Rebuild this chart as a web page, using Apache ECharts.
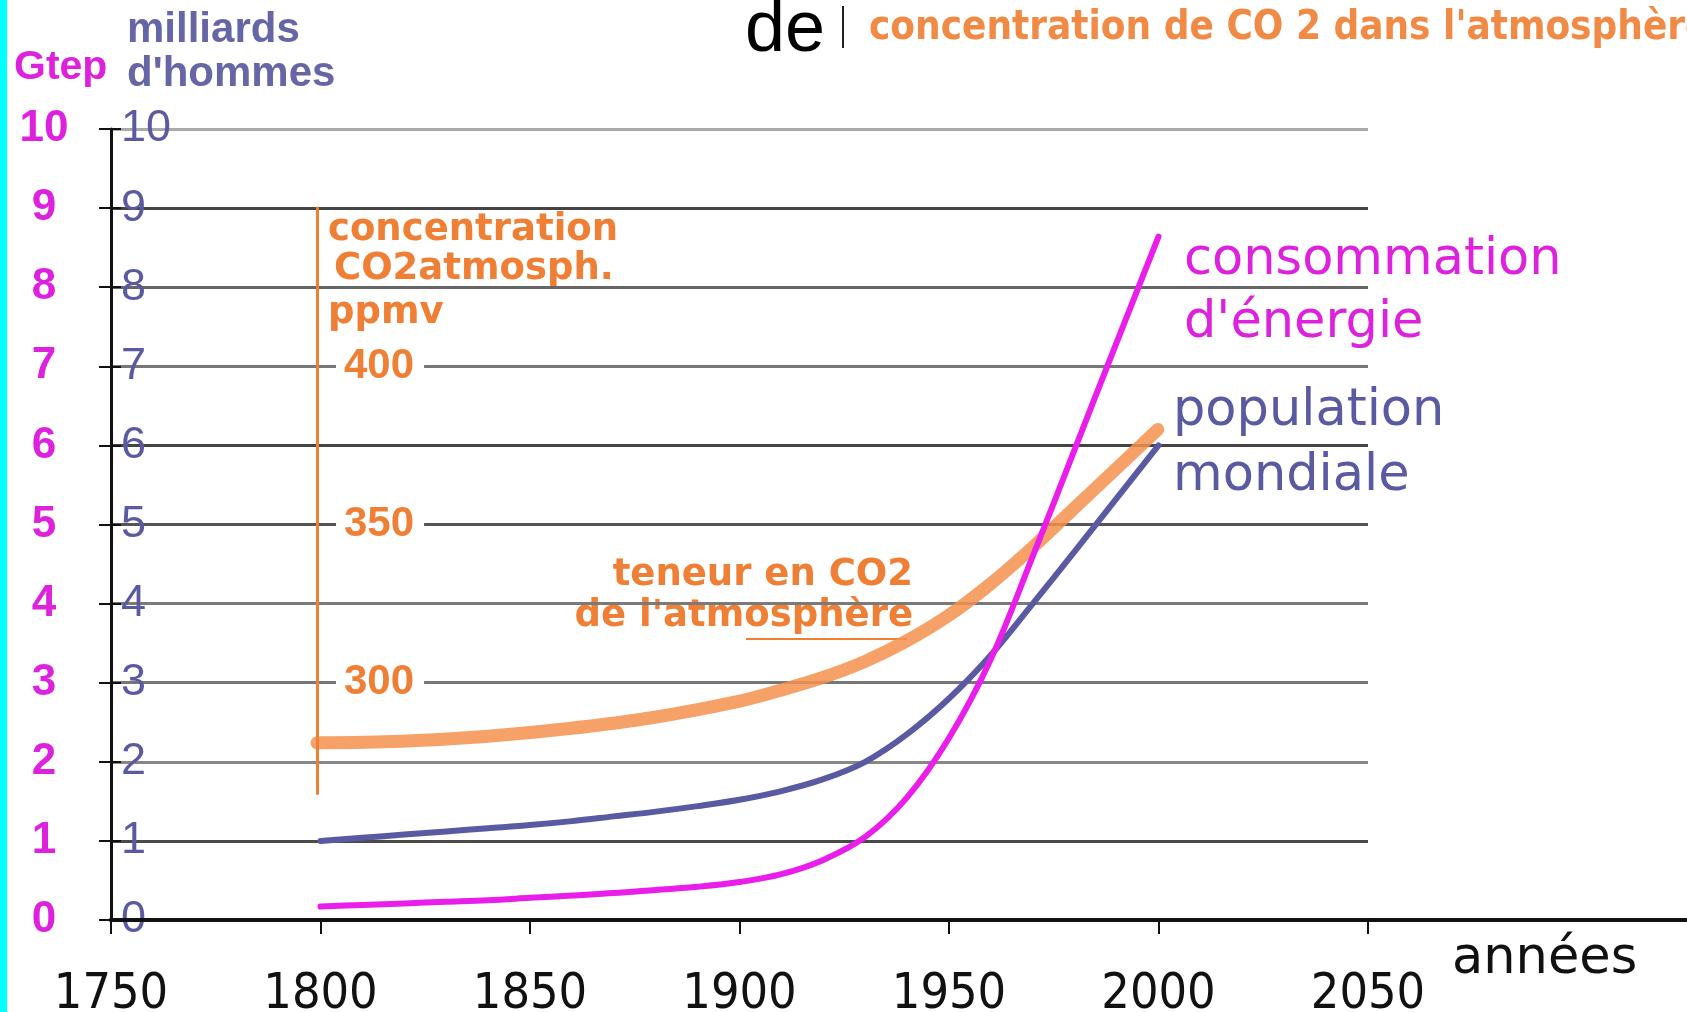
<!DOCTYPE html>
<html>
<head>
<meta charset="utf-8">
<script src="https://cdn.jsdelivr.net/npm/echarts@6/dist/echarts.min.js"></script>
<style>
  html, body { margin: 0; padding: 0; background: #fff; }
  #chart { width: 1687px; height: 1012px; }
</style>
</head>
<body>
<div id="chart"></div>
<script>
// années (consommation d'énergie et population)
var years = [1800, 1810, 1820, 1830, 1840, 1850, 1860, 1870, 1880, 1890, 1900,
  1910, 1920, 1930, 1940, 1950, 1960, 1970, 1980, 1990, 2000];
// consommation d'énergie (Gtep)
var energy = [0.17, 0.19, 0.21, 0.23, 0.25, 0.28, 0.31, 0.34, 0.38, 0.42, 0.48,
  0.58, 0.76, 1.05, 1.55, 2.3, 3.3, 4.6, 5.95, 7.3, 8.64];
// population mondiale (milliards d'hommes)
var population = [1.0, 1.04, 1.08, 1.12, 1.16, 1.2, 1.25, 1.31, 1.37, 1.44, 1.52,
  1.63, 1.78, 2.0, 2.35, 2.8, 3.35, 4.0, 4.66, 5.33, 6.0];
// teneur en CO2 de l'atmosphère (ppmv)
var co2Years = [1800, 1820, 1840, 1860, 1880, 1900, 1910, 1920, 1930, 1940, 1950, 1960, 1970, 1980, 1990, 2000];
var co2 = [281, 281.5, 283, 285.5, 289, 294, 297.5, 301.5, 306.5, 313, 321, 331, 342.5, 355, 367.5, 380];
var co2Ticks = [300, 350, 400];

var MAGENTA = "#dd22dd";
var BLUE = "#5a5aa2";
var ORANGE = "#ee7f35";
var NARROW = "'Liberation Sans Narrow', 'DejaVu Sans Condensed', sans-serif";
var SANS = "'Liberation Sans', sans-serif";
var WIDE = "'DejaVu Sans', sans-serif";

function pairs(xs, ys) {
  return xs.map(function (x, i) { return [x, ys[i]]; });
}

var chart = echarts.init(document.getElementById("chart"));

// échelle verticale : 0 -> y=920, 10 -> y=129 ; CO2 : ppm = 225 + 25 * Gtep
chart.setOption({
  animation: false,
  backgroundColor: "#fff",
  grid: [
    { left: 111, right: 319, top: 129, bottom: 92, outerBoundsMode: "none" },
    { left: 317, right: 319, top: 208.1, bottom: 218.6, outerBoundsMode: "none" },
    { left: 111, right: 0, top: 129, bottom: 92, outerBoundsMode: "none" }
  ],
  xAxis: [
    {
      gridIndex: 0,
      type: "value",
      min: 1750,
      max: 2050,
      interval: 50,
      z: 3,
      axisLine: { lineStyle: { color: "#111", width: 4 } },
      axisTick: { length: 14, lineStyle: { color: "#111", width: 2 } },
      axisLabel: {
        margin: 50,
        color: "#111",
        fontFamily: NARROW,
        fontSize: 50,
        formatter: function (v) { return String(v); }
      },
      splitLine: { show: false }
    },
    { gridIndex: 1, type: "value", min: 1800, max: 2050, show: false },
    {
      gridIndex: 2,
      type: "value",
      min: 0,
      max: 1,
      axisLine: { lineStyle: { color: "#111", width: 4 } },
      axisTick: { show: false },
      axisLabel: { show: false },
      splitLine: { show: false }
    }
  ],
  yAxis: [
    {
      gridIndex: 0,
      type: "value",
      position: "left",
      min: 0,
      max: 10,
      interval: 1,
      axisLine: { show: true, lineStyle: { color: "#111", width: 3 } },
      axisTick: { show: true, length: 12, lineStyle: { color: "#111", width: 2 } },
      axisLabel: {
        margin: 67,
        align: "center",
        color: MAGENTA,
        fontWeight: "bold",
        fontFamily: SANS,
        fontSize: 44
      },
      splitLine: {
        show: true,
        lineStyle: {
          width: 3,
          color: ["#555", "#4a4a4a", "#888", "#777", "#7a7a7a", "#555", "#444", "#777", "#666", "#444", "#aaa"]
        }
      }
    },
    {
      gridIndex: 0,
      type: "value",
      position: "left",
      offset: 0,
      min: 0,
      max: 10,
      interval: 1,
      axisLine: { show: false },
      axisTick: { show: true, inside: true, length: 10, lineStyle: { color: "#111", width: 2 } },
      axisLabel: {
        inside: true,
        margin: 10,
        color: BLUE,
        fontFamily: SANS,
        fontSize: 45
      },
      splitLine: { show: false }
    },
    {
      gridIndex: 1,
      type: "value",
      position: "left",
      min: 265,
      max: 450,
      z: 5,
      axisLine: { show: true, lineStyle: { color: ORANGE, width: 3 } },
      axisTick: { show: false },
      axisLabel: {
        inside: true,
        customValues: co2Ticks,
        margin: 19,
        color: ORANGE,
        fontWeight: "bold",
        fontFamily: SANS,
        fontSize: 42,
        backgroundColor: "#fff",
        padding: [2, 10, 2, 8]
      },
      splitLine: { show: false }
    },
    { gridIndex: 2, type: "value", min: 0, max: 1, show: false }
  ],
  series: [
    {
      name: "teneur en CO2",
      type: "line",
      xAxisIndex: 1,
      yAxisIndex: 2,
      smooth: 0.35,
      symbol: "none",
      z: 3,
      lineStyle: { color: "#f5914c", width: 13, opacity: 0.85, cap: "round" },
      data: pairs(co2Years, co2)
    },
    {
      name: "population mondiale",
      type: "line",
      xAxisIndex: 0,
      yAxisIndex: 0,
      smooth: 0.35,
      symbol: "none",
      z: 4,
      lineStyle: { color: BLUE, width: 6, cap: "round" },
      data: pairs(years, population)
    },
    {
      name: "consommation d'énergie",
      type: "line",
      xAxisIndex: 0,
      yAxisIndex: 0,
      smooth: 0.35,
      symbol: "none",
      z: 4,
      lineStyle: { color: "#ea1eea", width: 6, cap: "round" },
      data: pairs(years, energy)
    }
  ],
  graphic: [
    { type: "rect", left: 0, top: 0, shape: { width: 7, height: 1012 }, style: { fill: "#00ffff" } },
    { type: "text", left: 14, top: 47, style: { text: "Gtep", fill: MAGENTA, font: "bold 41px " + SANS } },
    { type: "text", left: 127, top: 9, style: { text: "milliards", fill: "#6666a6", font: "bold 42px " + SANS } },
    { type: "text", left: 127, top: 53, style: { text: "d'hommes", fill: "#6666a6", font: "bold 42px " + SANS } },
    { type: "text", left: 745, top: -5, style: { text: "de", fill: "#000", font: "72px " + SANS } },
    { type: "line", shape: { x1: 843, y1: 6, x2: 843, y2: 48 }, style: { stroke: "#222", lineWidth: 2 } },
    { type: "text", left: 869, top: 9, style: { text: "concentration de CO 2 dans l'atmosphère", fill: "#f08a45", font: "bold 40px " + NARROW } },
    { type: "text", left: 328, top: 212, style: { text: "concentration", fill: ORANGE, font: "bold 37px " + WIDE } },
    { type: "text", left: 334, top: 251, style: { text: "CO2atmosph.", fill: ORANGE, font: "bold 37px " + WIDE } },
    { type: "text", left: 328, top: 295, style: { text: "ppmv", fill: ORANGE, font: "bold 37px " + WIDE } },
    { type: "text", right: 774, top: 557, style: { text: "teneur en CO2", fill: ORANGE, font: "bold 37px " + WIDE } },
    { type: "text", right: 774, top: 598, style: { text: "de l'atmosphère", fill: ORANGE, font: "bold 37px " + WIDE } },
    { type: "line", shape: { x1: 746, y1: 639, x2: 907, y2: 639 }, style: { stroke: ORANGE, lineWidth: 2 } },
    { type: "text", left: 1184, top: 235, style: { text: "consommation", fill: MAGENTA, font: "51px " + WIDE } },
    { type: "text", left: 1184, top: 298, style: { text: "d'énergie", fill: MAGENTA, font: "51px " + WIDE } },
    { type: "text", left: 1173, top: 386, style: { text: "population", fill: BLUE, font: "51px " + WIDE } },
    { type: "text", left: 1173, top: 451, style: { text: "mondiale", fill: BLUE, font: "51px " + WIDE } },
    { type: "text", left: 1452, top: 934, style: { text: "années", fill: "#111", font: "51px " + WIDE } }
  ]
});
</script>
</body>
</html>
